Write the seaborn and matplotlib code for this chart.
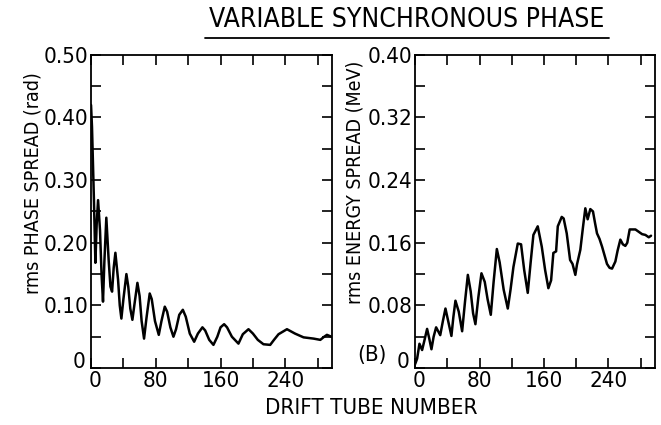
import matplotlib
matplotlib.use("Agg")
import matplotlib.pyplot as plt
import matplotlib.transforms as mtransforms
import pandas as pd
import seaborn as sns

# Phase spread along the linac (left panel)
phase_tube = [0, 1.2, 3.7, 5.4, 7, 8.7, 11.1, 13, 14.8, 16.5, 18.9, 21.8, 24, 26.0, 28, 30.1,
              33.4, 35.5, 37.5, 40, 43.7, 46, 48.5, 51.1, 54, 57.3, 60, 62.5, 65.5, 68.5,
              72.5, 75, 79, 83.7, 87, 91.1, 94, 98, 101.8, 105, 109, 113.4, 117, 122, 127.4,
              132, 137.6, 141, 146, 151.2, 156, 160, 164.4, 168, 174, 182.1, 187.5, 194.5,
              200, 206, 213, 221.3, 226, 231.6, 242, 252, 262.5, 274.9, 283.2, 288, 291.4, 297]
phase_rms = [0.42, 0.385, 0.263, 0.168, 0.23, 0.268, 0.220, 0.15, 0.106, 0.17, 0.240, 0.172,
             0.13, 0.122, 0.16, 0.184, 0.141, 0.10, 0.079, 0.11, 0.150, 0.13, 0.095, 0.077,
             0.105, 0.136, 0.115, 0.075, 0.047, 0.08, 0.119, 0.11, 0.075, 0.053, 0.075, 0.098,
             0.09, 0.065, 0.050, 0.062, 0.085, 0.093, 0.082, 0.055, 0.042, 0.055, 0.065, 0.06,
             0.045, 0.037, 0.05, 0.065, 0.070, 0.065, 0.05, 0.039, 0.054, 0.062, 0.055, 0.045,
             0.038, 0.037, 0.045, 0.054, 0.062, 0.055, 0.049, 0.047, 0.045, 0.05, 0.053, 0.050]

# Energy spread along the linac (right panel)
energy_tube = [0, 2.5, 5.4, 8.7, 11.5, 14.9, 17.5, 20.3, 23, 26.1, 31.2, 34.5, 37.7, 41.5,
               45.1, 47.5, 50.1, 54.2, 58.4, 62, 65.5, 69, 72, 74.9, 78.5, 82.4, 86.5, 90, 94,
               97.5, 101.5, 105, 110, 115.1, 118.5, 122.1, 127.5, 131.6, 135.5, 139.9, 143.5,
               146.9, 152.3, 157.3, 161.5, 165.5, 168.9, 171.7, 175.1, 177.2, 182.1, 184.5,
               188.3, 192.5, 195.5, 199, 201, 205.2, 208.5, 211.4, 214.3, 217.6, 220.9, 223.5,
               225.9, 229, 232.2, 238.3, 241.5, 244.6, 248.7, 251.5, 254.9, 258, 261.1, 263.5,
               266.5, 273.6, 281.9, 286, 290.2, 293]
energy_rms = [0.005, 0.012, 0.031, 0.023, 0.035, 0.050, 0.038, 0.024, 0.040, 0.052, 0.042,
              0.060, 0.076, 0.058, 0.041, 0.065, 0.086, 0.072, 0.047, 0.085, 0.119, 0.098,
              0.070, 0.056, 0.090, 0.121, 0.110, 0.088, 0.068, 0.110, 0.152, 0.135, 0.100,
              0.076, 0.100, 0.129, 0.159, 0.158, 0.125, 0.096, 0.135, 0.170, 0.181, 0.155,
              0.125, 0.102, 0.112, 0.147, 0.149, 0.181, 0.193, 0.191, 0.172, 0.138, 0.133,
              0.119, 0.132, 0.151, 0.180, 0.204, 0.190, 0.203, 0.200, 0.185, 0.172, 0.165,
              0.155, 0.133, 0.128, 0.127, 0.136, 0.150, 0.164, 0.158, 0.156, 0.160, 0.177,
              0.177, 0.171, 0.170, 0.167, 0.169]

x_ticks = [0, 40, 80, 120, 160, 200, 240, 280]
x_labels = ["0", "", "80", "", "160", "", "240", ""]
phase_ticks = [0, 0.05, 0.10, 0.15, 0.20, 0.25, 0.30, 0.35, 0.40, 0.45, 0.50]
phase_labels = ["0", "", "0.10", "", "0.20", "", "0.30", "", "0.40", "", "0.50"]
energy_ticks = [0, 0.04, 0.08, 0.12, 0.16, 0.20, 0.24, 0.28, 0.32, 0.36, 0.40]
energy_labels = ["0", "", "0.08", "", "0.16", "", "0.24", "", "0.32", "", "0.40"]

sns.set_style("ticks")
plt.rcParams["font.family"] = ["DejaVu Sans"]
plt.rcParams["font.stretch"] = "condensed"
plt.rcParams["text.color"] = "black"
plt.rcParams["xtick.color"] = "black"
plt.rcParams["ytick.color"] = "black"

df_phase = pd.DataFrame({"tube": phase_tube, "spread": phase_rms})
df_energy = pd.DataFrame({"tube": energy_tube, "spread": energy_rms})

fig = plt.figure(figsize=(6.61, 4.25), dpi=100)
ax1 = fig.add_axes([0.1377, 0.134, 0.365, 0.737])
ax2 = fig.add_axes([0.628, 0.134, 0.363, 0.737])

sns.lineplot(data=df_phase, x="tube", y="spread", ax=ax1, color="black", linewidth=1.8)
sns.lineplot(data=df_energy, x="tube", y="spread", ax=ax2, color="black", linewidth=1.8)

for ax, yt, yl, top in [(ax1, phase_ticks, phase_labels, 0.50),
                        (ax2, energy_ticks, energy_labels, 0.40)]:
    ax.set_xlim(0, 298)
    ax.set_ylim(0, top)
    ax.set_xticks(x_ticks)
    ax.set_xticklabels(x_labels, fontsize=16)
    ax.set_yticks(yt)
    ax.set_yticklabels(yl, fontsize=16)
    ax.tick_params(direction="in", length=7, width=1.2, top=True, right=True, pad=2)
    for s in ax.spines.values():
        s.set_linewidth(1.3)
        s.set_color("black")
    ax.set_xlabel("")
    ax.set_ylabel("")
    # the two origin zeros sit staggered, as in the original
    ylab0 = ax.get_yticklabels()[0]
    ylab0.set_transform(ylab0.get_transform() + mtransforms.ScaledTranslation(-2 / 72, 6 / 72, fig.dpi_scale_trans))
    xlab0 = ax.get_xticklabels()[0]
    xlab0.set_transform(xlab0.get_transform() + mtransforms.ScaledTranslation(3 / 72, 0, fig.dpi_scale_trans))

fig.text(0.050, 0.57, "rms PHASE SPREAD (rad)", rotation=90, ha="center", va="center", fontsize=14)
fig.text(0.537, 0.57, "rms ENERGY SPREAD (MeV)", rotation=90, ha="center", va="center", fontsize=14)
fig.text(0.563, 0.165, "(B)", ha="center", va="center", fontsize=16)
fig.text(0.562, 0.04, "DRIFT TUBE NUMBER", ha="center", va="center", fontsize=16)
fig.text(0.615, 0.953, "VARIABLE SYNCHRONOUS PHASE", ha="center", va="center", fontsize=19)
fig.add_artist(plt.Line2D([0.310, 0.921], [0.911, 0.911], color="black", linewidth=1.3))

fig.savefig("out.png", dpi=100)
